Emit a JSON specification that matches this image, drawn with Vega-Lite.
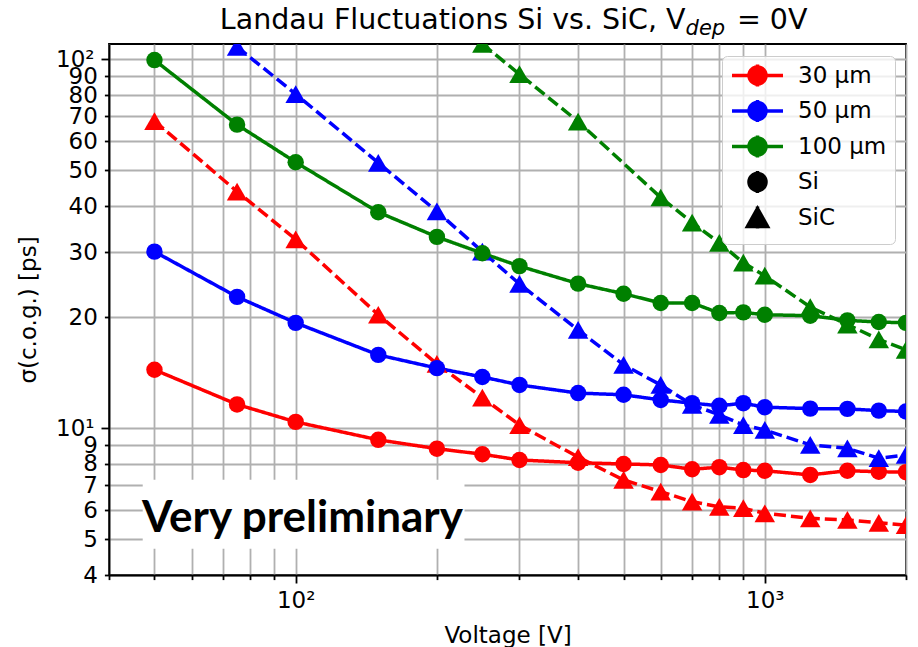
{
  "$schema": "https://vega.github.io/schema/vega-lite/v6.json",
  "width": 797,
  "height": 531,
  "autosize": {"type": "none"},
  "padding": {"left": 109, "top": 44, "right": 12, "bottom": 72},
  "background": "white",
  "config": {
    "font": "DejaVu Sans",
    "view": {"stroke": "black", "strokeWidth": 1.8},
    "axis": {
      "grid": true,
      "gridColor": "#b0b0b0",
      "gridWidth": 1.8,
      "domainColor": "black",
      "domainWidth": 1.8,
      "tickColor": "black",
      "tickWidth": 1.8,
      "labelFont": "DejaVu Sans",
      "labelFontSize": 23,
      "labelColor": "black",
      "labelOverlap": false,
      "labelFlush": false,
      "titleFont": "DejaVu Sans",
      "titleFontSize": 23,
      "titleFontWeight": "normal",
      "titleColor": "black"
    }
  },
  "datasets": {
    "timing": [
      {"voltage": 50, "thickness": "30 µm", "material": "Si", "sigma": 14.4},
      {"voltage": 75, "thickness": "30 µm", "material": "Si", "sigma": 11.6},
      {"voltage": 100, "thickness": "30 µm", "material": "Si", "sigma": 10.4},
      {"voltage": 150, "thickness": "30 µm", "material": "Si", "sigma": 9.3},
      {"voltage": 200, "thickness": "30 µm", "material": "Si", "sigma": 8.8},
      {"voltage": 250, "thickness": "30 µm", "material": "Si", "sigma": 8.5},
      {"voltage": 300, "thickness": "30 µm", "material": "Si", "sigma": 8.2},
      {"voltage": 400, "thickness": "30 µm", "material": "Si", "sigma": 8.06},
      {"voltage": 500, "thickness": "30 µm", "material": "Si", "sigma": 8.0},
      {"voltage": 600, "thickness": "30 µm", "material": "Si", "sigma": 7.95},
      {"voltage": 700, "thickness": "30 µm", "material": "Si", "sigma": 7.74},
      {"voltage": 800, "thickness": "30 µm", "material": "Si", "sigma": 7.84},
      {"voltage": 900, "thickness": "30 µm", "material": "Si", "sigma": 7.7},
      {"voltage": 1000, "thickness": "30 µm", "material": "Si", "sigma": 7.67},
      {"voltage": 1250, "thickness": "30 µm", "material": "Si", "sigma": 7.47},
      {"voltage": 1500, "thickness": "30 µm", "material": "Si", "sigma": 7.67},
      {"voltage": 1750, "thickness": "30 µm", "material": "Si", "sigma": 7.62},
      {"voltage": 2000, "thickness": "30 µm", "material": "Si", "sigma": 7.6},

      {"voltage": 50, "thickness": "30 µm", "material": "SiC", "sigma": 68.0},
      {"voltage": 75, "thickness": "30 µm", "material": "SiC", "sigma": 43.8},
      {"voltage": 100, "thickness": "30 µm", "material": "SiC", "sigma": 32.5},
      {"voltage": 150, "thickness": "30 µm", "material": "SiC", "sigma": 20.3},
      {"voltage": 200, "thickness": "30 µm", "material": "SiC", "sigma": 14.95},
      {"voltage": 250, "thickness": "30 µm", "material": "SiC", "sigma": 12.1},
      {"voltage": 300, "thickness": "30 µm", "material": "SiC", "sigma": 10.2},
      {"voltage": 400, "thickness": "30 µm", "material": "SiC", "sigma": 8.35},
      {"voltage": 500, "thickness": "30 µm", "material": "SiC", "sigma": 7.24},
      {"voltage": 600, "thickness": "30 µm", "material": "SiC", "sigma": 6.73},
      {"voltage": 700, "thickness": "30 µm", "material": "SiC", "sigma": 6.32},
      {"voltage": 800, "thickness": "30 µm", "material": "SiC", "sigma": 6.12},
      {"voltage": 900, "thickness": "30 µm", "material": "SiC", "sigma": 6.07},
      {"voltage": 1000, "thickness": "30 µm", "material": "SiC", "sigma": 5.88},
      {"voltage": 1250, "thickness": "30 µm", "material": "SiC", "sigma": 5.7},
      {"voltage": 1500, "thickness": "30 µm", "material": "SiC", "sigma": 5.64},
      {"voltage": 1750, "thickness": "30 µm", "material": "SiC", "sigma": 5.54},
      {"voltage": 2000, "thickness": "30 µm", "material": "SiC", "sigma": 5.46},

      {"voltage": 50, "thickness": "50 µm", "material": "Si", "sigma": 30.1},
      {"voltage": 75, "thickness": "50 µm", "material": "Si", "sigma": 22.7},
      {"voltage": 100, "thickness": "50 µm", "material": "Si", "sigma": 19.3},
      {"voltage": 150, "thickness": "50 µm", "material": "Si", "sigma": 15.8},
      {"voltage": 200, "thickness": "50 µm", "material": "Si", "sigma": 14.55},
      {"voltage": 250, "thickness": "50 µm", "material": "Si", "sigma": 13.77},
      {"voltage": 300, "thickness": "50 µm", "material": "Si", "sigma": 13.1},
      {"voltage": 400, "thickness": "50 µm", "material": "Si", "sigma": 12.45},
      {"voltage": 500, "thickness": "50 µm", "material": "Si", "sigma": 12.32},
      {"voltage": 600, "thickness": "50 µm", "material": "Si", "sigma": 11.93},
      {"voltage": 700, "thickness": "50 µm", "material": "Si", "sigma": 11.69},
      {"voltage": 800, "thickness": "50 µm", "material": "Si", "sigma": 11.5},
      {"voltage": 900, "thickness": "50 µm", "material": "Si", "sigma": 11.69},
      {"voltage": 1000, "thickness": "50 µm", "material": "Si", "sigma": 11.4},
      {"voltage": 1250, "thickness": "50 µm", "material": "Si", "sigma": 11.3},
      {"voltage": 1500, "thickness": "50 µm", "material": "Si", "sigma": 11.28},
      {"voltage": 1750, "thickness": "50 µm", "material": "Si", "sigma": 11.16},
      {"voltage": 2000, "thickness": "50 µm", "material": "Si", "sigma": 11.1},

      {"voltage": 75, "thickness": "50 µm", "material": "SiC", "sigma": 108},
      {"voltage": 100, "thickness": "50 µm", "material": "SiC", "sigma": 80.5},
      {"voltage": 150, "thickness": "50 µm", "material": "SiC", "sigma": 52.4},
      {"voltage": 200, "thickness": "50 µm", "material": "SiC", "sigma": 38.7},
      {"voltage": 250, "thickness": "50 µm", "material": "SiC", "sigma": 30.1},
      {"voltage": 300, "thickness": "50 µm", "material": "SiC", "sigma": 24.6},
      {"voltage": 400, "thickness": "50 µm", "material": "SiC", "sigma": 18.46},
      {"voltage": 500, "thickness": "50 µm", "material": "SiC", "sigma": 14.85},
      {"voltage": 600, "thickness": "50 µm", "material": "SiC", "sigma": 13.1},
      {"voltage": 700, "thickness": "50 µm", "material": "SiC", "sigma": 11.57},
      {"voltage": 800, "thickness": "50 µm", "material": "SiC", "sigma": 10.87},
      {"voltage": 900, "thickness": "50 µm", "material": "SiC", "sigma": 10.2},
      {"voltage": 1000, "thickness": "50 µm", "material": "SiC", "sigma": 9.89},
      {"voltage": 1250, "thickness": "50 µm", "material": "SiC", "sigma": 9.01},
      {"voltage": 1500, "thickness": "50 µm", "material": "SiC", "sigma": 8.82},
      {"voltage": 1750, "thickness": "50 µm", "material": "SiC", "sigma": 8.29},
      {"voltage": 2000, "thickness": "50 µm", "material": "SiC", "sigma": 8.46},

      {"voltage": 50, "thickness": "100 µm", "material": "Si", "sigma": 99.5},
      {"voltage": 75, "thickness": "100 µm", "material": "Si", "sigma": 66.5},
      {"voltage": 100, "thickness": "100 µm", "material": "Si", "sigma": 52.6},
      {"voltage": 150, "thickness": "100 µm", "material": "Si", "sigma": 38.5},
      {"voltage": 200, "thickness": "100 µm", "material": "Si", "sigma": 33.0},
      {"voltage": 250, "thickness": "100 µm", "material": "Si", "sigma": 29.8},
      {"voltage": 300, "thickness": "100 µm", "material": "Si", "sigma": 27.5},
      {"voltage": 400, "thickness": "100 µm", "material": "Si", "sigma": 24.65},
      {"voltage": 500, "thickness": "100 µm", "material": "Si", "sigma": 23.15},
      {"voltage": 600, "thickness": "100 µm", "material": "Si", "sigma": 21.85},
      {"voltage": 700, "thickness": "100 µm", "material": "Si", "sigma": 21.85},
      {"voltage": 800, "thickness": "100 µm", "material": "Si", "sigma": 20.52},
      {"voltage": 900, "thickness": "100 µm", "material": "Si", "sigma": 20.6},
      {"voltage": 1000, "thickness": "100 µm", "material": "Si", "sigma": 20.3},
      {"voltage": 1250, "thickness": "100 µm", "material": "Si", "sigma": 20.18},
      {"voltage": 1500, "thickness": "100 µm", "material": "Si", "sigma": 19.6},
      {"voltage": 1750, "thickness": "100 µm", "material": "Si", "sigma": 19.4},
      {"voltage": 2000, "thickness": "100 µm", "material": "Si", "sigma": 19.3},

      {"voltage": 250, "thickness": "100 µm", "material": "SiC", "sigma": 110},
      {"voltage": 300, "thickness": "100 µm", "material": "SiC", "sigma": 91.1},
      {"voltage": 400, "thickness": "100 µm", "material": "SiC", "sigma": 67.8},
      {"voltage": 600, "thickness": "100 µm", "material": "SiC", "sigma": 42.2},
      {"voltage": 700, "thickness": "100 µm", "material": "SiC", "sigma": 36.1},
      {"voltage": 800, "thickness": "100 µm", "material": "SiC", "sigma": 31.8},
      {"voltage": 900, "thickness": "100 µm", "material": "SiC", "sigma": 28.1},
      {"voltage": 1000, "thickness": "100 µm", "material": "SiC", "sigma": 25.9},
      {"voltage": 1250, "thickness": "100 µm", "material": "SiC", "sigma": 21.3},
      {"voltage": 1500, "thickness": "100 µm", "material": "SiC", "sigma": 19.1},
      {"voltage": 1750, "thickness": "100 µm", "material": "SiC", "sigma": 17.4},
      {"voltage": 2000, "thickness": "100 µm", "material": "SiC", "sigma": 16.3}
    ],
    "single": [{}]
  },
  "layer": [
    {
      "data": {"name": "single"},
      "mark": {"type": "rect", "fill": "white", "stroke": null},
      "encoding": {
        "x": {"datum": 47.2, "type": "quantitative", "scale": {"type": "log", "domain": [40, 2000], "nice": false, "zero": false}},
        "x2": {"datum": 229},
        "y": {"datum": 4.71, "type": "quantitative", "scale": {"type": "log", "domain": [4, 110], "nice": false, "zero": false}},
        "y2": {"datum": 7.25}
      }
    },
    {
      "data": {"name": "single"},
      "mark": {"type": "text", "text": "Very preliminary", "font": "Lato", "fontWeight": "bold", "fontSize": 44, "color": "black", "align": "center", "baseline": "alphabetic"},
      "encoding": {
        "x": {"datum": 103.4, "type": "quantitative"},
        "y": {"datum": 5.24, "type": "quantitative"}
      }
    },
    {
      "data": {"name": "timing"},
      "encoding": {
        "x": {
          "field": "voltage", "type": "quantitative",
          "scale": {"type": "log", "domain": [40, 2000], "nice": false, "zero": false},
          "axis": {
            "title": "Voltage [V]",
            "values": [40, 50, 60, 70, 80, 90, 100, 200, 300, 400, 500, 600, 700, 800, 900, 1000, 2000],
            "labelExpr": "datum.value == 100 ? '10²' : datum.value == 1000 ? '10³' : ''",
            "tickSize": {"condition": {"test": "datum.value == 100 || datum.value == 1000", "value": 8}, "value": 4.6},
            "labelPadding": 6,
            "titlePadding": 12
          }
        },
        "y": {
          "field": "sigma", "type": "quantitative",
          "scale": {"type": "log", "domain": [4, 110], "nice": false, "zero": false},
          "axis": {
            "title": "σ(c.o.g.) [ps]",
            "values": [4, 5, 6, 7, 8, 9, 10, 20, 30, 40, 50, 60, 70, 80, 90, 100],
            "labelExpr": "datum.value == 10 ? '10¹' : datum.value == 100 ? '10²' : format(datum.value, 'd')",
            "tickSize": {"condition": {"test": "datum.value == 10 || datum.value == 100", "value": 8}, "value": 4.6},
            "labelPadding": 7,
            "titlePadding": 15
          }
        },
        "color": {
          "field": "thickness", "type": "nominal",
          "scale": {
            "domain": ["30 µm", "50 µm", "100 µm", "Si", "SiC"],
            "range": ["#ff0000", "#0000ff", "#008000", "#000000", "#000000"]
          },
          "legend": {
            "title": null,
            "orient": "none",
            "legendX": 613,
            "legendY": 12,
            "padding": 8,
            "rowPadding": -1.5,
            "symbolSize": 289,
            "symbolOffset": 16,
            "labelOffset": 29,
            "labelFont": "DejaVu Sans",
            "labelFontSize": 23,
            "labelColor": "black",
            "labelLimit": 300,
            "fillColor": "rgba(255,255,255,0.8)",
            "strokeColor": "#cccccc",
            "cornerRadius": 5,
            "encode": {
              "symbols": {
                "update": {
                  "shape": {"signal": "datum.value === 'Si' ? 'M0,-1.3V1.3M-1,0A1,1,0,1,1,1,0A1,1,0,1,1,-1,0Z' : datum.value === 'SiC' ? 'M0,-1.3V1.3M0,-1.05L1.18,1.05L-1.18,1.05Z' : 'M-3,0H3M0,-1.3V1.3M-1,0A1,1,0,1,1,1,0A1,1,0,1,1,-1,0Z'"},
                  "fill": {"scale": "color", "field": "value"},
                  "stroke": {"signal": "datum.value === 'Si' || datum.value === 'SiC' ? 'transparent' : scale('color', datum.value)"},
                  "strokeWidth": {"value": 3.5},
                  "strokeDash": {"value": [1, 0]},
                  "size": {"value": 289},
                  "opacity": {"value": 1}
                }
              }
            }
          }
        }
      },
      "layer": [
        {
          "mark": {"type": "line", "strokeWidth": 3.5, "clip": true},
          "encoding": {
            "strokeDash": {
              "field": "material", "type": "nominal",
              "scale": {"domain": ["Si", "SiC"], "range": [[1, 0], [12, 5]]},
              "legend": null
            },
            "detail": {"field": "material"}
          }
        },
        {
          "mark": {"type": "point", "filled": true, "opacity": 1, "clip": true},
          "encoding": {
            "shape": {
              "field": "material", "type": "nominal",
              "scale": {"domain": ["Si", "SiC"], "range": ["circle", "triangle-up"]},
              "legend": null
            },
            "size": {
              "field": "material", "type": "nominal",
              "scale": {"domain": ["Si", "SiC"], "range": [270, 420]},
              "legend": null
            }
          }
        }
      ]
    },
    {
      "data": {"name": "single"},
      "mark": {"type": "text", "text": "Landau Fluctuations Si vs. SiC, V", "font": "DejaVu Sans", "fontSize": 28.5, "color": "black", "align": "right", "baseline": "alphabetic", "clip": false},
      "encoding": {
        "x": {"datum": 678, "type": "quantitative"},
        "y": {"datum": 120.8, "type": "quantitative"}
      }
    },
    {
      "data": {"name": "single"},
      "mark": {"type": "text", "text": "dep", "font": "DejaVu Sans", "fontStyle": "italic", "fontSize": 21, "color": "black", "align": "left", "baseline": "alphabetic", "clip": false},
      "encoding": {
        "x": {"datum": 678, "type": "quantitative"},
        "y": {"datum": 116, "type": "quantitative"}
      }
    },
    {
      "data": {"name": "single"},
      "mark": {"type": "text", "text": "= 0V", "font": "DejaVu Sans", "fontSize": 28.5, "color": "black", "align": "left", "baseline": "alphabetic", "clip": false},
      "encoding": {
        "x": {"datum": 872, "type": "quantitative"},
        "y": {"datum": 120.8, "type": "quantitative"}
      }
    }
  ]
}
